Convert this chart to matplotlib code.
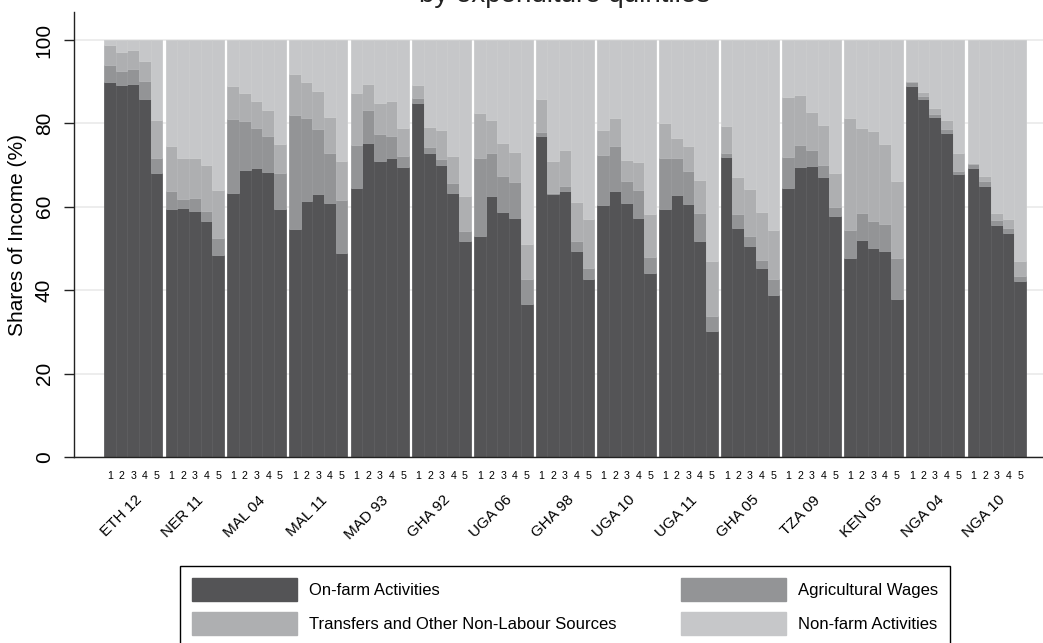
import matplotlib
matplotlib.use("Agg")
import matplotlib.pyplot as plt
import matplotlib.transforms as mtransforms
from matplotlib.patches import Patch
import numpy as np

plt.rcParams['font.family'] = ['Liberation Sans', 'DejaVu Sans']

countries = ["ETH 12", "NER 11", "MAL 04", "MAL 11", "MAD 93", "GHA 92", "UGA 06", "GHA 98",
             "UGA 10", "UGA 11", "GHA 05", "TZA 09", "KEN 05", "NGA 04", "NGA 10"]
quintiles = ["1", "2", "3", "4", "5"]

# shares (%) by expenditure quintile, one row per survey
on_farm = [
    [90.0, 89.2, 89.4, 85.9, 68.0],
    [59.4, 59.8, 59.0, 56.6, 48.4],
    [63.4, 68.8, 69.2, 68.3, 59.4],
    [54.6, 61.4, 63.0, 60.8, 48.8],
    [64.4, 75.4, 71.0, 71.6, 69.6],
    [85.0, 73.0, 70.0, 63.4, 51.8],
    [53.0, 62.6, 58.8, 57.4, 36.6],
    [77.0, 63.0, 63.8, 49.4, 42.7],
    [60.4, 63.8, 60.8, 57.4, 44.2],
    [59.4, 62.8, 60.6, 51.8, 30.2],
    [72.0, 55.0, 50.6, 45.2, 38.8],
    [64.4, 69.6, 69.8, 67.2, 57.8],
    [47.6, 52.0, 50.2, 49.4, 38.0],
    [89.0, 85.8, 81.6, 77.8, 67.8],
    [69.2, 65.0, 55.6, 53.8, 42.2],
]
ag_wages = [
    [4.0, 3.4, 3.7, 4.3, 3.6],
    [4.4, 2.0, 3.2, 2.4, 4.2],
    [17.6, 11.8, 9.8, 8.7, 8.6],
    [27.4, 20.0, 15.6, 12.0, 12.8],
    [10.4, 7.8, 6.4, 5.4, 2.6],
    [1.0, 1.3, 1.4, 2.3, 2.4],
    [18.8, 10.2, 8.6, 8.6, 6.0],
    [1.0, 0.4, 1.2, 2.4, 2.5],
    [12.0, 10.8, 5.4, 6.6, 3.8],
    [12.2, 8.8, 8.0, 6.8, 3.6],
    [0.8, 3.2, 2.4, 2.0, 3.8],
    [7.6, 5.2, 3.8, 2.8, 2.2],
    [6.8, 6.4, 6.4, 6.4, 9.8],
    [0.8, 0.8, 0.6, 0.8, 0.8],
    [1.0, 1.2, 1.2, 1.0, 1.2],
]
transfers = [
    [4.8, 4.6, 4.5, 4.8, 9.2],
    [10.8, 9.8, 9.4, 11.0, 11.4],
    [8.0, 6.6, 6.4, 6.2, 7.0],
    [9.8, 8.6, 9.2, 8.8, 9.4],
    [12.4, 6.2, 7.6, 8.4, 6.8],
    [3.2, 4.9, 7.0, 6.5, 8.4],
    [10.6, 8.0, 7.8, 7.2, 8.4],
    [7.8, 7.6, 8.6, 9.4, 11.8],
    [6.0, 6.8, 5.0, 6.8, 10.2],
    [8.4, 5.0, 6.0, 7.8, 13.2],
    [6.6, 9.0, 11.2, 11.6, 11.8],
    [14.4, 12.0, 9.2, 9.6, 8.0],
    [27.0, 20.4, 21.6, 19.2, 18.4],
    [0.4, 0.8, 1.6, 2.2, 4.2],
    [0.2, 1.2, 1.8, 2.2, 3.6],
]

c_farm, c_wage, c_trans, c_nonfarm = "#545456", "#939496", "#aeafb1", "#c6c7c9"

onf = np.array(on_farm).ravel()
wag = np.array(ag_wages).ravel()
trn = np.array(transfers).ravel()
nonf = 100 - onf - wag - trn

gap = 0.28
x = np.array([g * (5 + gap) + j + 0.5 for g in range(len(countries)) for j in range(5)])

fig = plt.figure(figsize=(10.43, 6.43), dpi=100)
ax = fig.add_axes([74 / 1043, 1 - 457 / 643, (1043 - 74) / 1043, 445 / 643])

kw = dict(width=1.0, linewidth=0.6)
ax.bar(x, onf, color=c_farm, edgecolor="#5d5d5f", **kw)
ax.bar(x, wag, bottom=onf, color=c_wage, edgecolor="#9a9b9d", **kw)
ax.bar(x, trn, bottom=onf + wag, color=c_trans, edgecolor="#b5b6b8", **kw)
ax.bar(x, nonf, bottom=onf + wag + trn, color=c_nonfarm, edgecolor="#cbcccd", **kw)

ax.set_xlim(-2.57, 15 * (5 + gap) - gap + 1.46)
ax.set_ylim(0, 106.7)
ax.set_axisbelow(True)
ax.yaxis.grid(True, color="#ececec", linewidth=1.3)

for s in ["top", "right"]:
    ax.spines[s].set_visible(False)
for s in ["left", "bottom"]:
    ax.spines[s].set_color("#222222")
    ax.spines[s].set_linewidth(1.0)

ax.set_yticks([0, 20, 40, 60, 80, 100])
ax.set_yticklabels(["0", "20", "40", "60", "80", "100"], rotation=90, va="center")
ax.tick_params(axis="y", length=7.5, width=1.0, pad=7, labelsize=15, color="#222222")

ax.set_xticks(x)
ax.set_xticklabels(quintiles * len(countries), fontsize=7.7)
ax.tick_params(axis="x", length=0, pad=10)

ax.set_ylabel("Shares of Income (%)", fontsize=15)
ax.yaxis.set_label_coords(-0.049, 0.5)

trans = mtransforms.blended_transform_factory(ax.transData, ax.transAxes)
for g, name in enumerate(countries):
    cx = g * (5 + gap) + 2.5 + 0.55
    ax.text(cx, -0.092, name, transform=trans, rotation=45, ha="right", va="center",
            rotation_mode="anchor", fontsize=11)

fig.text(565 / 1043, 1 - 2 / 643, "by expenditure quintiles", ha="center", va="baseline",
         fontsize=20, color="#222222")

handles = [Patch(facecolor=c_farm, edgecolor=c_farm), Patch(facecolor=c_trans, edgecolor=c_trans),
           Patch(facecolor=c_wage, edgecolor=c_wage), Patch(facecolor=c_nonfarm, edgecolor=c_nonfarm)]
labels = ["On-farm Activities", "Transfers and Other Non-Labour Sources",
          "Agricultural Wages", "Non-farm Activities"]
leg = fig.legend(handles, labels, ncol=2, loc="upper center",
                 bbox_to_anchor=(565 / 1043, 1 - 558 / 643), fontsize=12,
                 frameon=True, fancybox=False, edgecolor="black", framealpha=1,
                 handlelength=6.3, handleheight=1.7, handletextpad=0.7,
                 columnspacing=3.9, labelspacing=0.69, borderpad=0.7)
leg.get_frame().set_linewidth(1.0)

fig.savefig("out.png", dpi=100)
